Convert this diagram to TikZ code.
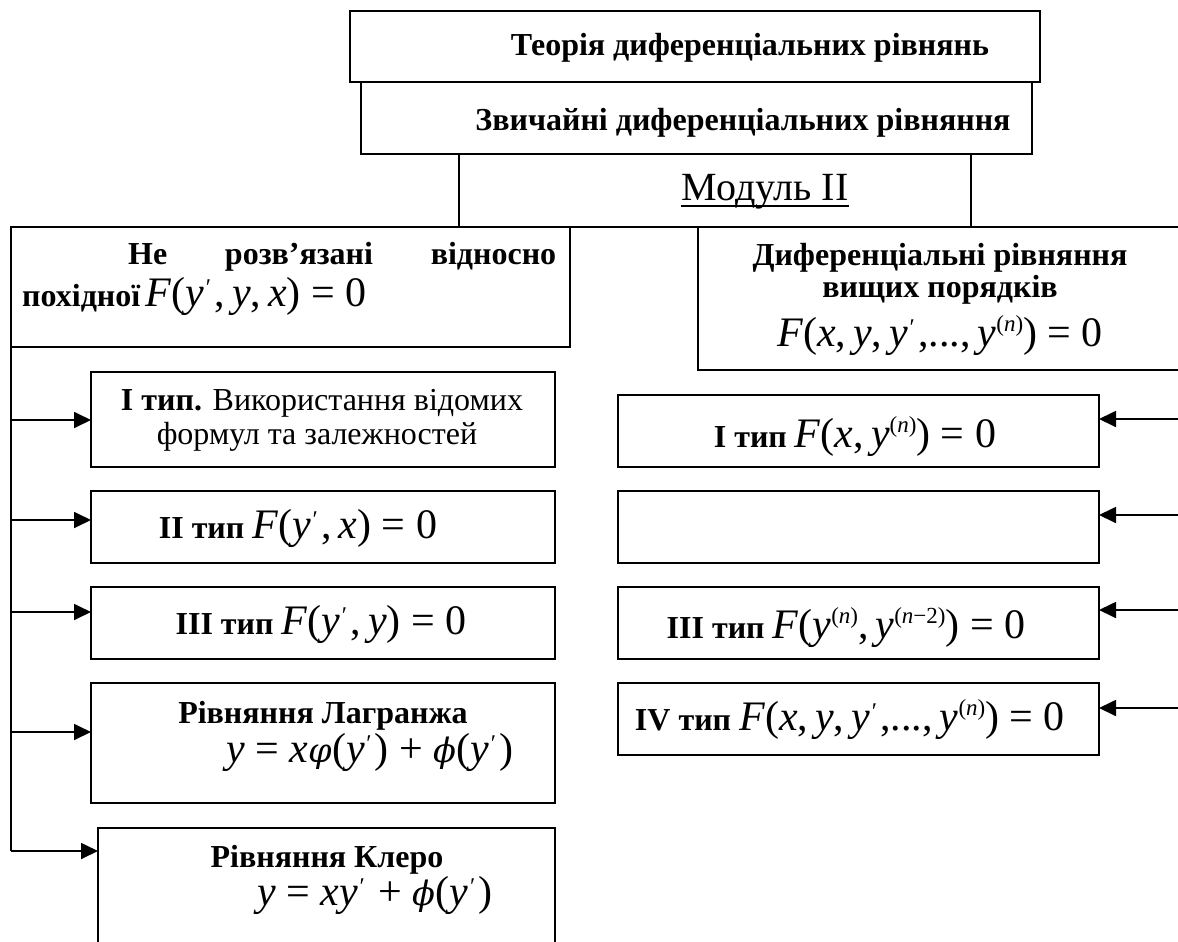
\documentclass[tikz,border=0pt]{standalone}
\usepackage{fontspec}
\setmainfont{Liberation Serif}
\newfontfamily\grk[Scale=0.8]{DejaVu Serif}
\usetikzlibrary{arrows.meta}
\newcommand{\mi}[1]{\textit{#1}}
\newcommand{\pr}{\kern0.04em\raisebox{11pt}{\fontsize{24}{24}\selectfont ′}\kern0.08em}
\newcommand{\fm}[1]{{\fontsize{42}{50}\selectfont #1}}
\newcommand{\sups}[1]{\raisebox{15pt}{\fontsize{23}{23}\selectfont #1}}
\newcommand{\vphi}{{\grk\itshape φ}}
\newcommand{\sphi}{{\grk\itshape ϕ}}
\tikzset{
  box/.style={draw, line width=2pt, inner sep=0pt, outer sep=0pt, anchor=north west},
  conn/.style={line width=1.8pt, -{Triangle[length=17pt,width=16pt]}},
  plain/.style={line width=2pt},
  txt/.style={inner sep=0pt, anchor=base, font=\fontsize{32}{38}\selectfont},
  btxt/.style={inner sep=0pt, anchor=base, font=\fontsize{32}{38}\selectfont\bfseries},
}
\begin{document}
\begin{tikzpicture}[x=1pt,y=-1pt]
\useasboundingbox (0,0) rectangle (1178,942);
% boxes
\node[box, minimum width=690pt, minimum height=71pt] (top) at (350,11) {};
\node[box, minimum width=671pt, minimum height=72pt] (sec) at (361,82) {};
\node[box, minimum width=512pt, minimum height=73pt] (mod) at (459,154) {};
\node[box, minimum width=559pt, minimum height=120pt] (left) at (11,227) {};
\node[box, minimum width=484pt, minimum height=143pt] (right) at (698,227) {};
\node[box, minimum width=464pt, minimum height=95pt] (L1) at (91,372) {};
\node[box, minimum width=464pt, minimum height=72pt] (L2) at (91,491) {};
\node[box, minimum width=464pt, minimum height=72pt] (L3) at (91,587) {};
\node[box, minimum width=464pt, minimum height=120pt] (L4) at (91,683) {};
\node[box, minimum width=457pt, minimum height=130pt] (L5) at (98,828) {};
\node[box, minimum width=481pt, minimum height=72pt] (R1) at (618,395) {};
\node[box, minimum width=481pt, minimum height=72pt] (R2) at (618,491) {};
\node[box, minimum width=481pt, minimum height=72pt] (R3) at (618,587) {};
\node[box, minimum width=481pt, minimum height=72pt] (R4) at (618,683) {};
% texts
\node[btxt] (topt) at (750,56) {Теорія диференціальних рівнянь};
\node[btxt] (sect) at (743,130) {Звичайні диференціальних рівняння};
\node[txt, font=\fontsize{40}{46}\selectfont] (modt) at (765,200) {Модуль II};
\draw[line width=2pt] ([yshift=-6pt]modt.base west) -- ([yshift=-6pt]modt.base east);
\node[btxt, anchor=base west] (lt1) at (128,264) {\makebox[428pt][s]{Не розв’язані відносно}};
\node[btxt, anchor=base west] (lt2) at (22,306) {похідної\,\mdseries\fm{\mi{F}(\mi{y}\pr,\,\mi{y},\,\mi{x}) = 0}};
\node[btxt] (rt1) at (940,265) {Диференціальні рівняння};
\node[btxt] (rt2) at (940,297) {вищих порядків};
\node[txt] (rt3) at (940,346) {\fm{\mi{F}(\mi{x},\,\mi{y},\,\mi{y}\pr,...,\,\mi{y}\sups{(\mi{n})}) = 0}};
\node[txt] (l1a) at (322,410) {\textbf{I тип.} Використання відомих};
\node[txt] (l1b) at (317,444) {формул та залежностей};
\node[txt] (l2t) at (298,538) {\textbf{II тип} \fm{\mi{F}(\mi{y}\pr,\,\mi{x}) = 0}};
\node[txt] (l3t) at (321,634) {\textbf{III тип} \fm{\mi{F}(\mi{y}\pr,\,\mi{y}) = 0}};
\node[btxt] (l4a) at (323,723) {Рівняння Лагранжа};
\node[txt] (l4b) at (370,762) {\fm{\mi{y} = \mi{x}\vphi(\mi{y}\pr) + \sphi(\mi{y}\pr)}};
\node[btxt] (l5a) at (327,867) {Рівняння Клеро};
\node[txt] (l5b) at (375,905) {\fm{\mi{y} = \mi{xy}\pr\ + \sphi(\mi{y}\pr)}};
\node[txt] (r1t) at (855,447) {\textbf{I тип} \fm{\mi{F}(\mi{x},\,\mi{y}\sups{(\mi{n})}) = 0}};
\node[txt] (r3t) at (846,638) {\textbf{III тип} \fm{\mi{F}(\mi{y}\sups{(\mi{n})},\,\mi{y}\sups{(\mi{n}−2)}) = 0}};
\node[txt] (r4t) at (850,730) {\textbf{IV тип} \fm{\mi{F}(\mi{x},\,\mi{y},\,\mi{y}\pr,...,\,\mi{y}\sups{(\mi{n})}) = 0}};
% connectors left
\coordinate (a1) at (11,420);
\coordinate (a2) at (11,520);
\coordinate (a3) at (11,612);
\coordinate (a4) at (11,732);
\coordinate (a5) at (11,851);
\draw[plain] (left.south west) -- (a5);
\foreach \i/\b in {1/L1,2/L2,3/L3,4/L4,5/L5}
  \draw[conn] (a\i) -- (a\i -| \b.west);
% connectors right
\coordinate (b1) at (1182,419);
\coordinate (b2) at (1182,515);
\coordinate (b3) at (1182,610);
\coordinate (b4) at (1182,708);
\foreach \i/\b in {1/R1,2/R2,3/R3,4/R4}
  \draw[conn] (b\i) -- (b\i -| \b.east);
\end{tikzpicture}
\end{document}
